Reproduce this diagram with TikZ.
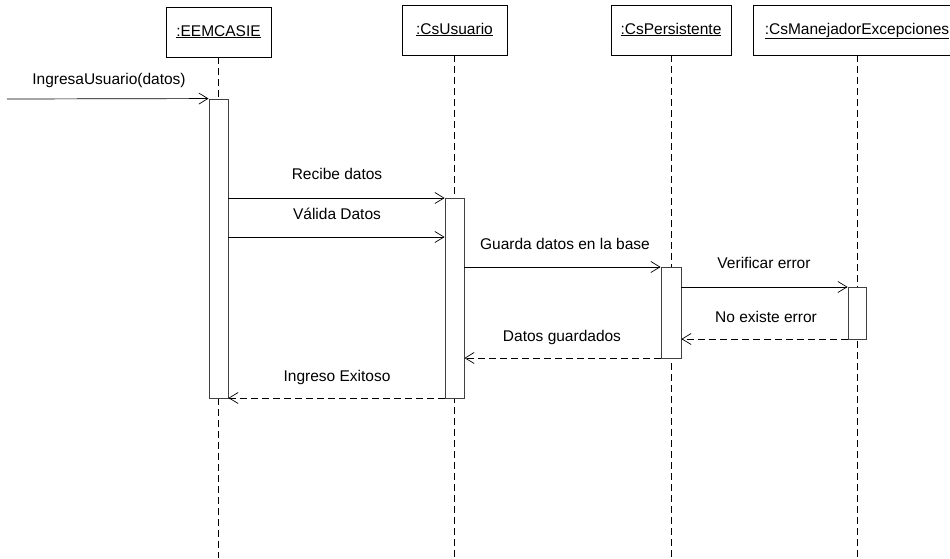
\documentclass[tikz,border=0pt]{standalone}
\usepackage{fontspec}
\setmainfont{Liberation Sans}
\usetikzlibrary{arrows.meta}
\begin{document}
\begin{tikzpicture}[x=1pt,y=-1pt,
  every node/.style={font=\fontsize{15.5}{18}\selectfont, inner sep=0pt},
  objbox/.style={draw=black, line width=0.8pt, fill=white, minimum height=50pt, text height=11pt, text depth=3pt},
  act/.style={draw=black!75, line width=0.9pt, fill=white, minimum width=19pt},
  life/.style={draw=black, line width=0.7pt, dash pattern=on 7pt off 4pt},
  msg/.style={draw=black, line width=0.7pt, -{Straight Barb[length=9pt,width=11pt,line width=0.7pt]}},
  ret/.style={msg, dash pattern=on 7pt off 4pt},
  lbl/.style={text height=11pt, text depth=3pt}
]
\useasboundingbox (0,0) rectangle (950,558);

% object boxes
\node[objbox, minimum width=105pt] (oA) at (218.5,32) {\underline{:EEMCASIE}};
\node[objbox, minimum width=105pt] (oB) at (454.5,30) {\underline{:CsUsuario}};
\node[objbox, minimum width=120pt] (oC) at (671,30) {\underline{:CsPersistente}};
\node[objbox, minimum width=208pt] (oD) at (857,30) {\underline{:CsManejadorExcepciones}};

% lifeline ends
\coordinate (eA) at (218.5,558);
\coordinate (eB) at (454.5,558);
\coordinate (eC) at (671,558);
\coordinate (eD) at (857,558);

\draw[life] (oA.south) -- (eA);
\draw[life] (oB.south) -- (eB);
\draw[life] (oC.south) -- (eC);
\draw[life] (oD.south) -- (eD);

% activations
\node[act, minimum height=299pt] (aA) at (218.5,248.5) {};
\node[act, minimum height=200pt] (aB) at (454.5,298) {};
\node[act, minimum height=91pt, minimum width=20pt] (aC) at (671,312.5) {};
\node[act, minimum height=52pt, minimum width=18pt] (aD) at (857,313) {};

% incoming
\coordinate (src) at (7,99);
\draw[msg] (src) -- (aA.north west);
\node[lbl] (l0) at (109,80) {IngresaUsuario(datos)};

% messages
\coordinate (y1) at (0,198);
\coordinate (y2) at (0,237);
\coordinate (y3) at (0,267);
\coordinate (y4) at (0,287);
\coordinate (y5) at (0,339);
\coordinate (y6) at (0,358);
\coordinate (y7) at (0,398);

\draw[msg] (aA.east |- y1) -- (aB.west |- y1);
\node[lbl] (l1) at (337,175) {Recibe datos};

\draw[msg] (aA.east |- y2) -- (aB.west |- y2);
\node[lbl] (l2) at (337,215) {Válida Datos};

\draw[msg] (aB.east |- y3) -- (aC.west |- y3);
\node[lbl] (l3) at (565,245) {Guarda datos en la base};

\draw[msg] (aC.east |- y4) -- (aD.west |- y4);
\node[lbl] (l4) at (764,264) {Verificar error};

\draw[ret] (aD.west |- y5) -- (aC.east |- y5);
\node[lbl] (l5) at (766,318) {No existe error};

\draw[ret] (aC.west |- y6) -- (aB.east |- y6);
\node[lbl] (l6) at (562,337) {Datos guardados};

\draw[ret] (aB.west |- y7) -- (aA.east |- y7);
\node[lbl] (l7) at (337,377) {Ingreso Exitoso};
\end{tikzpicture}
\end{document}
